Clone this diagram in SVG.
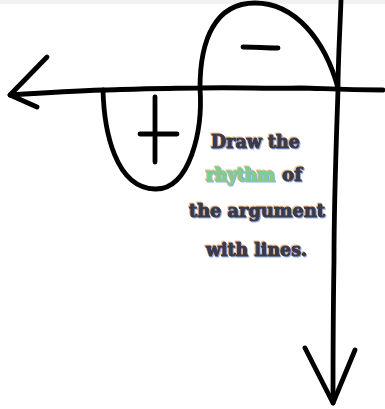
<svg xmlns="http://www.w3.org/2000/svg" width="385" height="409" viewBox="0 0 385 409">
<style>
.ink{fill:none;stroke:#000;stroke-width:4.8;stroke-linecap:round;stroke-linejoin:round}
.t{font-family:"DejaVu Serif","Liberation Serif",serif;font-weight:bold;font-size:18px;fill:#3a3a48;stroke:#3a3a48;stroke-width:1.1;stroke-linejoin:round}
.grn{fill:#7fce8c;stroke:#7fce8c}
</style>
<defs>
<filter id="ca" x="-10%" y="-30%" width="120%" height="160%">
<feFlood flood-color="#e0a060" flood-opacity="0.7"/>
<feComposite in2="SourceAlpha" operator="in"/>
<feOffset dx="-1.2" dy="-0.6" result="a"/>
<feFlood flood-color="#6a8ad0" flood-opacity="0.7"/>
<feComposite in2="SourceAlpha" operator="in"/>
<feOffset dx="1.2" dy="0.6" result="b"/>
<feMerge><feMergeNode in="a"/><feMergeNode in="b"/><feMergeNode in="SourceGraphic"/></feMerge>
</filter>
</defs>
<rect width="385" height="409" fill="#fff"/>
<rect width="385" height="4" fill="#f1f1f1"/>
<g id="axes">
<path class="ink" d="M10,95 C40,93 70,91 103,90 C140,89 170,88 200,88 C240,87 260,89 300,88 C320,88 335,90 383,90"/>
<path class="ink" d="M47,57 L10,95 L37,107"/>
<path class="ink" d="M341,0 C340,30 338,60 338,90 C336,150 334,200 334,260 C333,320 333,370 333,403"/>
<path class="ink" d="M305,348 L333,403 L355,350"/>
</g>
<g id="curve">
<path class="ink" d="M103,90 C104,130 115,188 155,189 C190,190 203,130 200,88"/>
<path class="ink" d="M200,88 C200,40 215,3 255,3 C295,3 325,40 338,88"/>
</g>
<g id="signs">
<path class="ink" d="M243,47 C255,47 266,48 278,48"/>
<path class="ink" d="M140,134 L177,134"/>
<path class="ink" d="M155,97 L155,162"/>
</g>
<g id="caption" filter="url(#ca)">
<text class="t" x="211" y="148" textLength="89" lengthAdjust="spacingAndGlyphs">Draw the</text>
<text class="t grn" x="206" y="181" textLength="69" lengthAdjust="spacingAndGlyphs">rhythm</text>
<text class="t" x="282" y="181" textLength="20" lengthAdjust="spacingAndGlyphs">of</text>
<text class="t" x="189" y="217" textLength="136" lengthAdjust="spacingAndGlyphs">the argument</text>
<text class="t" x="206" y="256" textLength="101" lengthAdjust="spacingAndGlyphs">with lines.</text>
</g>
</svg>
